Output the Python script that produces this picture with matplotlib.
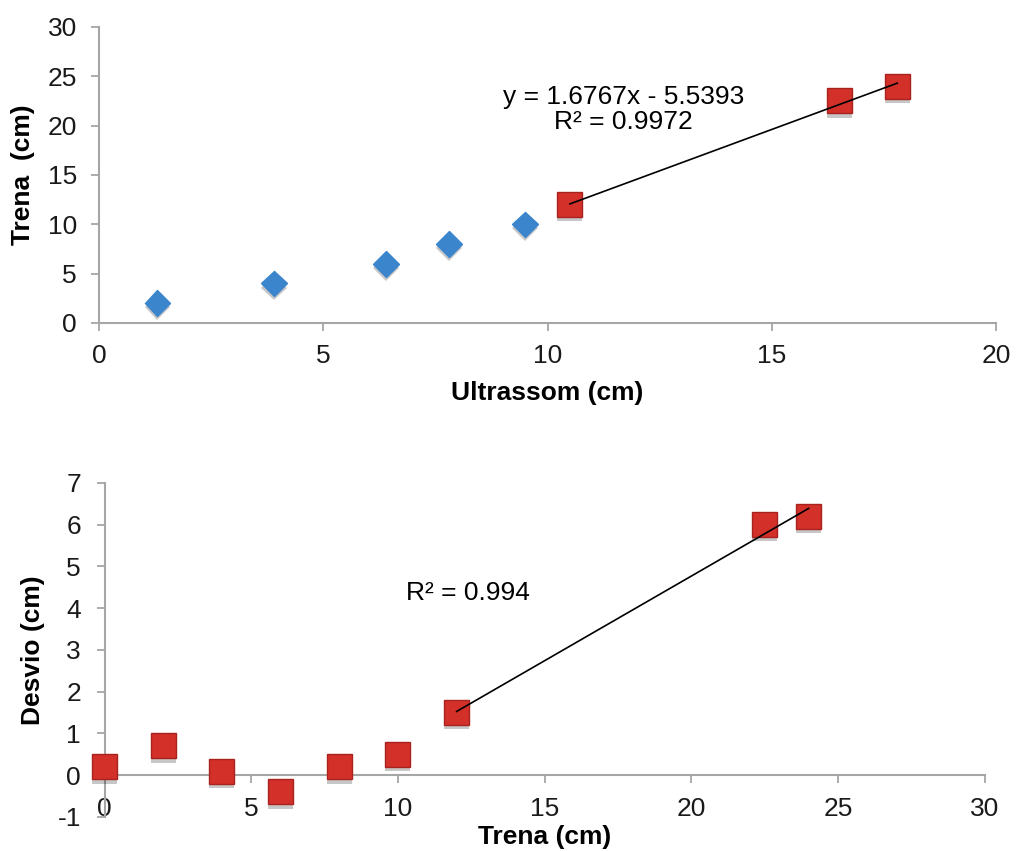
import matplotlib
matplotlib.use('Agg')
import matplotlib.pyplot as plt
import matplotlib.patheffects as pe
import numpy as np

# top chart: ultrasound reading vs tape measure
ultra_blue = [1.3, 3.9, 6.4, 7.8, 9.5]
trena_blue = [2, 4, 6, 8, 10]
ultra_red = [10.5, 16.5, 17.8]
trena_red = [12, 22.5, 24]
eq_text = 'y = 1.6767x - 5.5393\nR² = 0.9972'

# bottom chart: deviation vs tape measure
trena_dev = [0, 2, 4, 6, 8, 10, 12, 22.5, 24]
desvio = [0.2, 0.7, 0.1, -0.4, 0.2, 0.5, 1.5, 6.0, 6.2]
fit_from = 6          # trendline uses points from this index on
r2_text = 'R² = 0.994'

BLUE = '#3a85cc'
RED = '#d3302a'
RED_EDGE = '#a8231e'
SPINE = '#a6a6a6'
FS = 19

plt.rcParams['font.family'] = ['Liberation Sans', 'DejaVu Sans']
plt.rcParams['font.size'] = FS
plt.rcParams['axes.unicode_minus'] = False

shadow = [pe.SimplePatchShadow(offset=(0, -3), shadow_rgbFace='k', alpha=0.22), pe.Normal()]


def style_axes(ax):
    for side in ('top', 'right'):
        ax.spines[side].set_visible(False)
    for side in ('left', 'bottom'):
        ax.spines[side].set_color(SPINE)
        ax.spines[side].set_linewidth(1.5)
    ax.tick_params(direction='out', length=6, width=1.3, color=SPINE,
                   labelcolor='#1a1a1a', labelsize=FS)


def trendline(ax, xs, ys):
    k, b = np.polyfit(xs, ys, 1)
    x0, x1 = min(xs), max(xs)
    ax.plot([x0, x1], [k * x0 + b, k * x1 + b], '-', color='black', lw=1.2, zorder=6)


fig = plt.figure(figsize=(10.19, 8.51), dpi=100)

# ── top ──────────────────────────────────────────────────────────────────────
ax1 = fig.add_axes([0.0972, 0.6205, 0.8802, 0.3478])
style_axes(ax1)
ax1.plot(ultra_blue, trena_blue, 'D', ms=13, color=BLUE, mec=BLUE, zorder=4, path_effects=shadow)
ax1.plot(ultra_red, trena_red, 's', ms=18, color=RED, mec=RED_EDGE, mew=1, zorder=4, path_effects=shadow)
trendline(ax1, ultra_red, trena_red)
ax1.text(11.7, 21.6, eq_text, ha='center', va='center', fontsize=FS, linespacing=1.05)
ax1.set_xlim(0, 20)
ax1.set_ylim(0, 30)
ax1.set_xticks(np.arange(0, 21, 5))
ax1.set_yticks(np.arange(0, 31, 5))
ax1.tick_params(axis='x', pad=9)
ax1.tick_params(axis='y', pad=10)
ax1.set_xlabel('Ultrassom (cm)', fontweight='bold', fontsize=FS, va='center')
ax1.xaxis.set_label_coords(0.5, -0.236)
ax1.set_ylabel('Trena  (cm)', fontweight='bold', fontsize=FS, va='center')
ax1.yaxis.set_label_coords(-0.085, 0.5)

# ── bottom ───────────────────────────────────────────────────────────────────
ax2 = fig.add_axes([0.1027, 0.04, 0.8636, 0.3925])
style_axes(ax2)
ax2.spines['bottom'].set_position(('data', 0))
ax2.plot(trena_dev, desvio, 's', ms=18, color=RED, mec=RED_EDGE, mew=1, zorder=4,
         path_effects=shadow, clip_on=False)
trendline(ax2, trena_dev[fit_from:], desvio[fit_from:])
ax2.text(12.4, 4.36, r2_text, ha='center', va='center', fontsize=FS)
ax2.set_xlim(0, 30)
ax2.set_ylim(-1, 7)
ax2.set_xticks(np.arange(0, 31, 5))
ax2.set_yticks(np.arange(-1, 8, 1))
ax2.tick_params(axis='x', pad=10)
ax2.tick_params(axis='y', pad=11)
ax2.set_xlabel('Trena (cm)', fontweight='bold', fontsize=FS, va='center')
ax2.xaxis.set_label_coords(0.5, -0.06)
ax2.set_ylabel('Desvio (cm)', fontweight='bold', fontsize=FS, va='center')
ax2.yaxis.set_label_coords(-0.081, 0.5)

fig.savefig('out.png', dpi=100)
